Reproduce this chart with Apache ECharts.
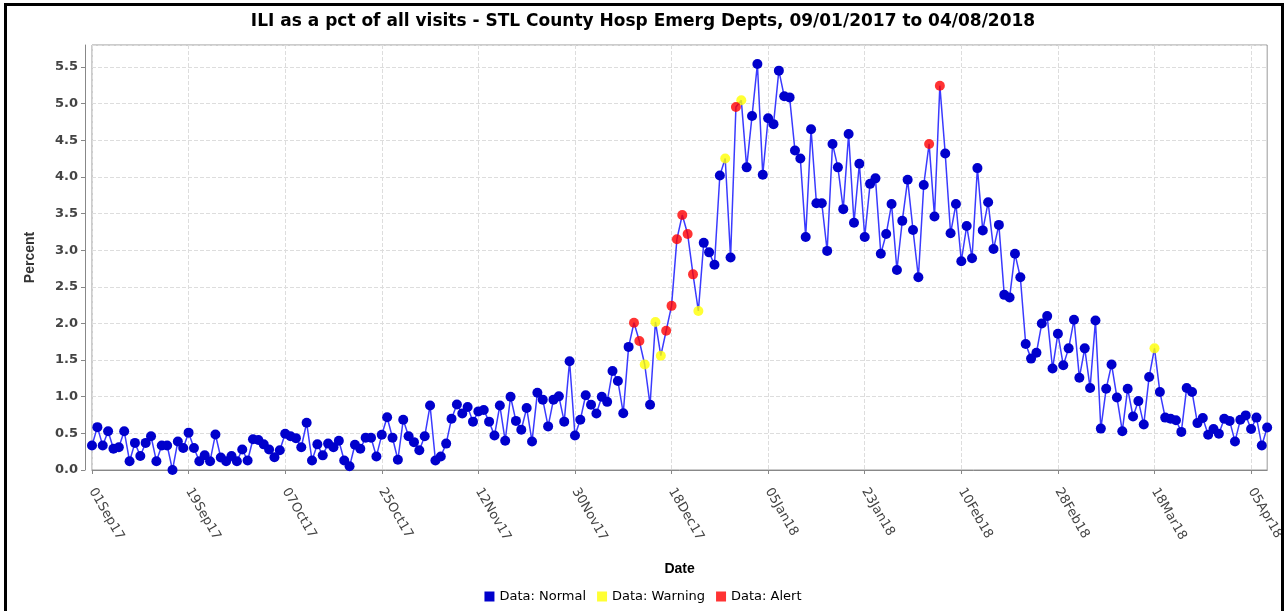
<!DOCTYPE html>
<html>
<head>
<meta charset="utf-8">
<script src="https://cdn.jsdelivr.net/npm/echarts@6/dist/echarts.min.js"></script>
<style>
html,body{margin:0;padding:0;background:#fff;}
#chart{width:1286px;height:611px;}
</style>
</head>
<body>
<div id="chart"></div>
<script>
// ---- data ----
const startDate = [2017, 8, 1]; // 01Sep17
const dayCount = 220;           // 01Sep17 .. 08Apr18
const monthNames = ['Jan','Feb','Mar','Apr','May','Jun','Jul','Aug','Sep','Oct','Nov','Dec'];

const iliSep = [0.335,0.585,0.335,0.53,0.29,0.31,0.53,0.12,0.37,0.19,0.37,0.46,0.12,0.335,0.335,0.0,0.39,0.30,0.51,0.30,0.12,0.20,0.12,0.485,0.17,0.12];
const iliOct = [0.19,0.12,0.28,0.13,0.42,0.41,0.35,0.28,0.175,0.27,0.495,0.46,0.435,0.31,0.645,0.13,0.35,0.20,0.36,0.31,0.40,0.13,0.05,0.345,0.29,0.44];
const iliNov = [0.44,0.185,0.48,0.72,0.44,0.14,0.685,0.46,0.38,0.27,0.46,0.88,0.13,0.185,0.36,0.70,0.895,0.77,0.86,0.66,0.80,0.82,0.66,0.47,0.88];
const iliLateNov = [0.40,1.0,0.67,0.55,0.845,0.39,1.055,0.96,0.595,0.96,1.005,0.66,1.485,0.47,0.685,1.02,0.89,0.77,1.0,0.93,1.35,1.215,0.775,1.68];
const iliDec = [2.01,1.76,1.44,0.89,2.02,1.56,1.90,2.24,3.15,3.48,3.22,2.67,2.17,3.10,2.97,2.80,4.02,4.25,2.90,4.955,5.045,4.13,4.83,5.54];
const iliJan = [4.03,4.80,4.72,5.45,5.10,5.085,4.36,4.25,3.18,4.65,3.64,3.64,2.99,4.45,4.13,3.56,4.585,3.375,4.18,3.18,3.905,3.98,2.95,3.22,3.63];
const iliFeb = [2.73,3.40,3.96,3.275,2.63,3.89,4.45,3.46,5.245,4.32,3.23,3.63,2.85,3.33,2.89,4.12,3.27,3.655,3.015,3.345,2.39,2.355,2.95,2.63,1.72];
const iliMar = [1.52,1.60,2.00,2.10,1.385,1.86,1.43,1.66,2.05,1.26,1.66,1.12,2.04,0.565,1.11,1.44,0.99,0.53,1.11,0.73,0.94,0.62,1.27,1.66,1.065,0.715];
const iliApr = [0.70,0.68,0.52,1.12,1.065,0.64,0.71,0.48,0.56,0.495,0.70,0.67,0.39,0.685,0.745,0.56,0.715,0.335,0.58];

// day indices (0 = 01Sep17) flagged by the detection algorithm
const warningDays = [103,105,106,113,118,121,198];
const alertDays = [101,102,107,108,109,110,111,112,120,156,158];

const yTicks = [0.0,0.5,1.0,1.5,2.0,2.5,3.0,3.5,4.0,4.5,5.0,5.5];

// ---- build ----
const values = [].concat(iliSep, iliOct, iliNov, iliLateNov, iliDec, iliJan, iliFeb, iliMar, iliApr);
const dates = [];
for (let i = 0; i < dayCount; i++) {
  const d = new Date(startDate[0], startDate[1], startDate[2] + i);
  const dd = String(d.getDate()).padStart(2, '0');
  dates.push(dd + monthNames[d.getMonth()] + String(d.getFullYear()).slice(2));
}
const flagged = new Set(warningDays.concat(alertDays));
const normalData = values.map((v, i) => flagged.has(i) ? {value: v, symbol: 'none'} : v);
const warnData = values.map((v, i) => warningDays.includes(i) ? v : '-');
const alertData = values.map((v, i) => alertDays.includes(i) ? v : '-');

const chart = echarts.init(document.getElementById('chart'), null, {renderer: 'canvas'});
const wideFont = '"DejaVu Sans", Verdana, sans-serif';
const arialFont = '"Liberation Sans", Arial, sans-serif';
chart.setOption({
  animation: false,
  backgroundColor: '#fff',
  title: {
    text: 'ILI as a pct of all visits - STL County Hosp Emerg Depts, 09/01/2017 to 04/08/2018',
    left: 'center', top: 8,
    textStyle: {fontFamily: wideFont, fontSize: 17, fontWeight: 'bold', color: '#000'}
  },
  legend: {
    bottom: 3, left: 'center', icon: 'rect', itemWidth: 10, itemHeight: 10, itemGap: 11,
    textStyle: {fontFamily: wideFont, fontSize: 13, color: '#000'},
    data: ['Data: Normal', 'Data: Warning', 'Data: Alert']
  },
  grid: {left: 92, right: 17, top: 45, bottom: 141, show: true, borderColor: '#999', borderWidth: 1},
  xAxis: {
    type: 'category', data: dates, boundaryGap: false, offset: 8,
    name: 'Date', nameLocation: 'middle', nameGap: 84,
    nameTextStyle: {fontFamily: arialFont, fontSize: 14, fontWeight: 'bold', color: '#000'},
    axisLine: {lineStyle: {color: '#888'}},
    axisTick: {interval: 17, length: 4, lineStyle: {color: '#888'}},
    axisLabel: {interval: 17, rotate: -60, fontFamily: wideFont, fontSize: 13, color: '#444', margin: 11},
    splitLine: {show: true, interval: 17, lineStyle: {color: '#ddd', type: 'dashed'}}
  },
  yAxis: {
    type: 'value', min: 0, max: 5.8, interval: 0.5, offset: 7,
    name: 'Percent', nameLocation: 'middle', nameGap: 48,
    nameTextStyle: {fontFamily: arialFont, fontSize: 14, fontWeight: 'bold', color: '#333'},
    axisLine: {show: true, lineStyle: {color: '#888'}},
    axisTick: {show: true, length: 4, lineStyle: {color: '#888'}},
    axisLabel: {
      fontFamily: wideFont, fontSize: 13, fontWeight: 'bold', color: '#444', margin: 7,
      showMaxLabel: false,
      formatter: v => yTicks.some(t => Math.abs(t - v) < 1e-6) ? v.toFixed(1) : ''
    },
    splitLine: {lineStyle: {color: '#ddd', type: 'dashed'}}
  },
  series: [
    {
      name: 'Data: Normal', type: 'line', data: normalData,
      symbol: 'circle', symbolSize: 10, showAllSymbol: true,
      itemStyle: {color: '#0000cc'},
      lineStyle: {color: '#3a3aff', width: 1.5},
      z: 2
    },
    {
      name: 'Data: Warning', type: 'scatter', data: warnData,
      symbol: 'circle', symbolSize: 10, itemStyle: {color: '#ffff00'}, z: 3
    },
    {
      name: 'Data: Alert', type: 'scatter', data: alertData,
      symbol: 'circle', symbolSize: 10, itemStyle: {color: '#ff0000'}, z: 3
    }
  ],
  graphic: [{
    type: 'rect', silent: true, z: 100,
    shape: {x: 5.5, y: 4.5, width: 1277, height: 640},
    style: {fill: 'none', stroke: '#000', lineWidth: 3}
  }]
});
</script>
</body>
</html>
